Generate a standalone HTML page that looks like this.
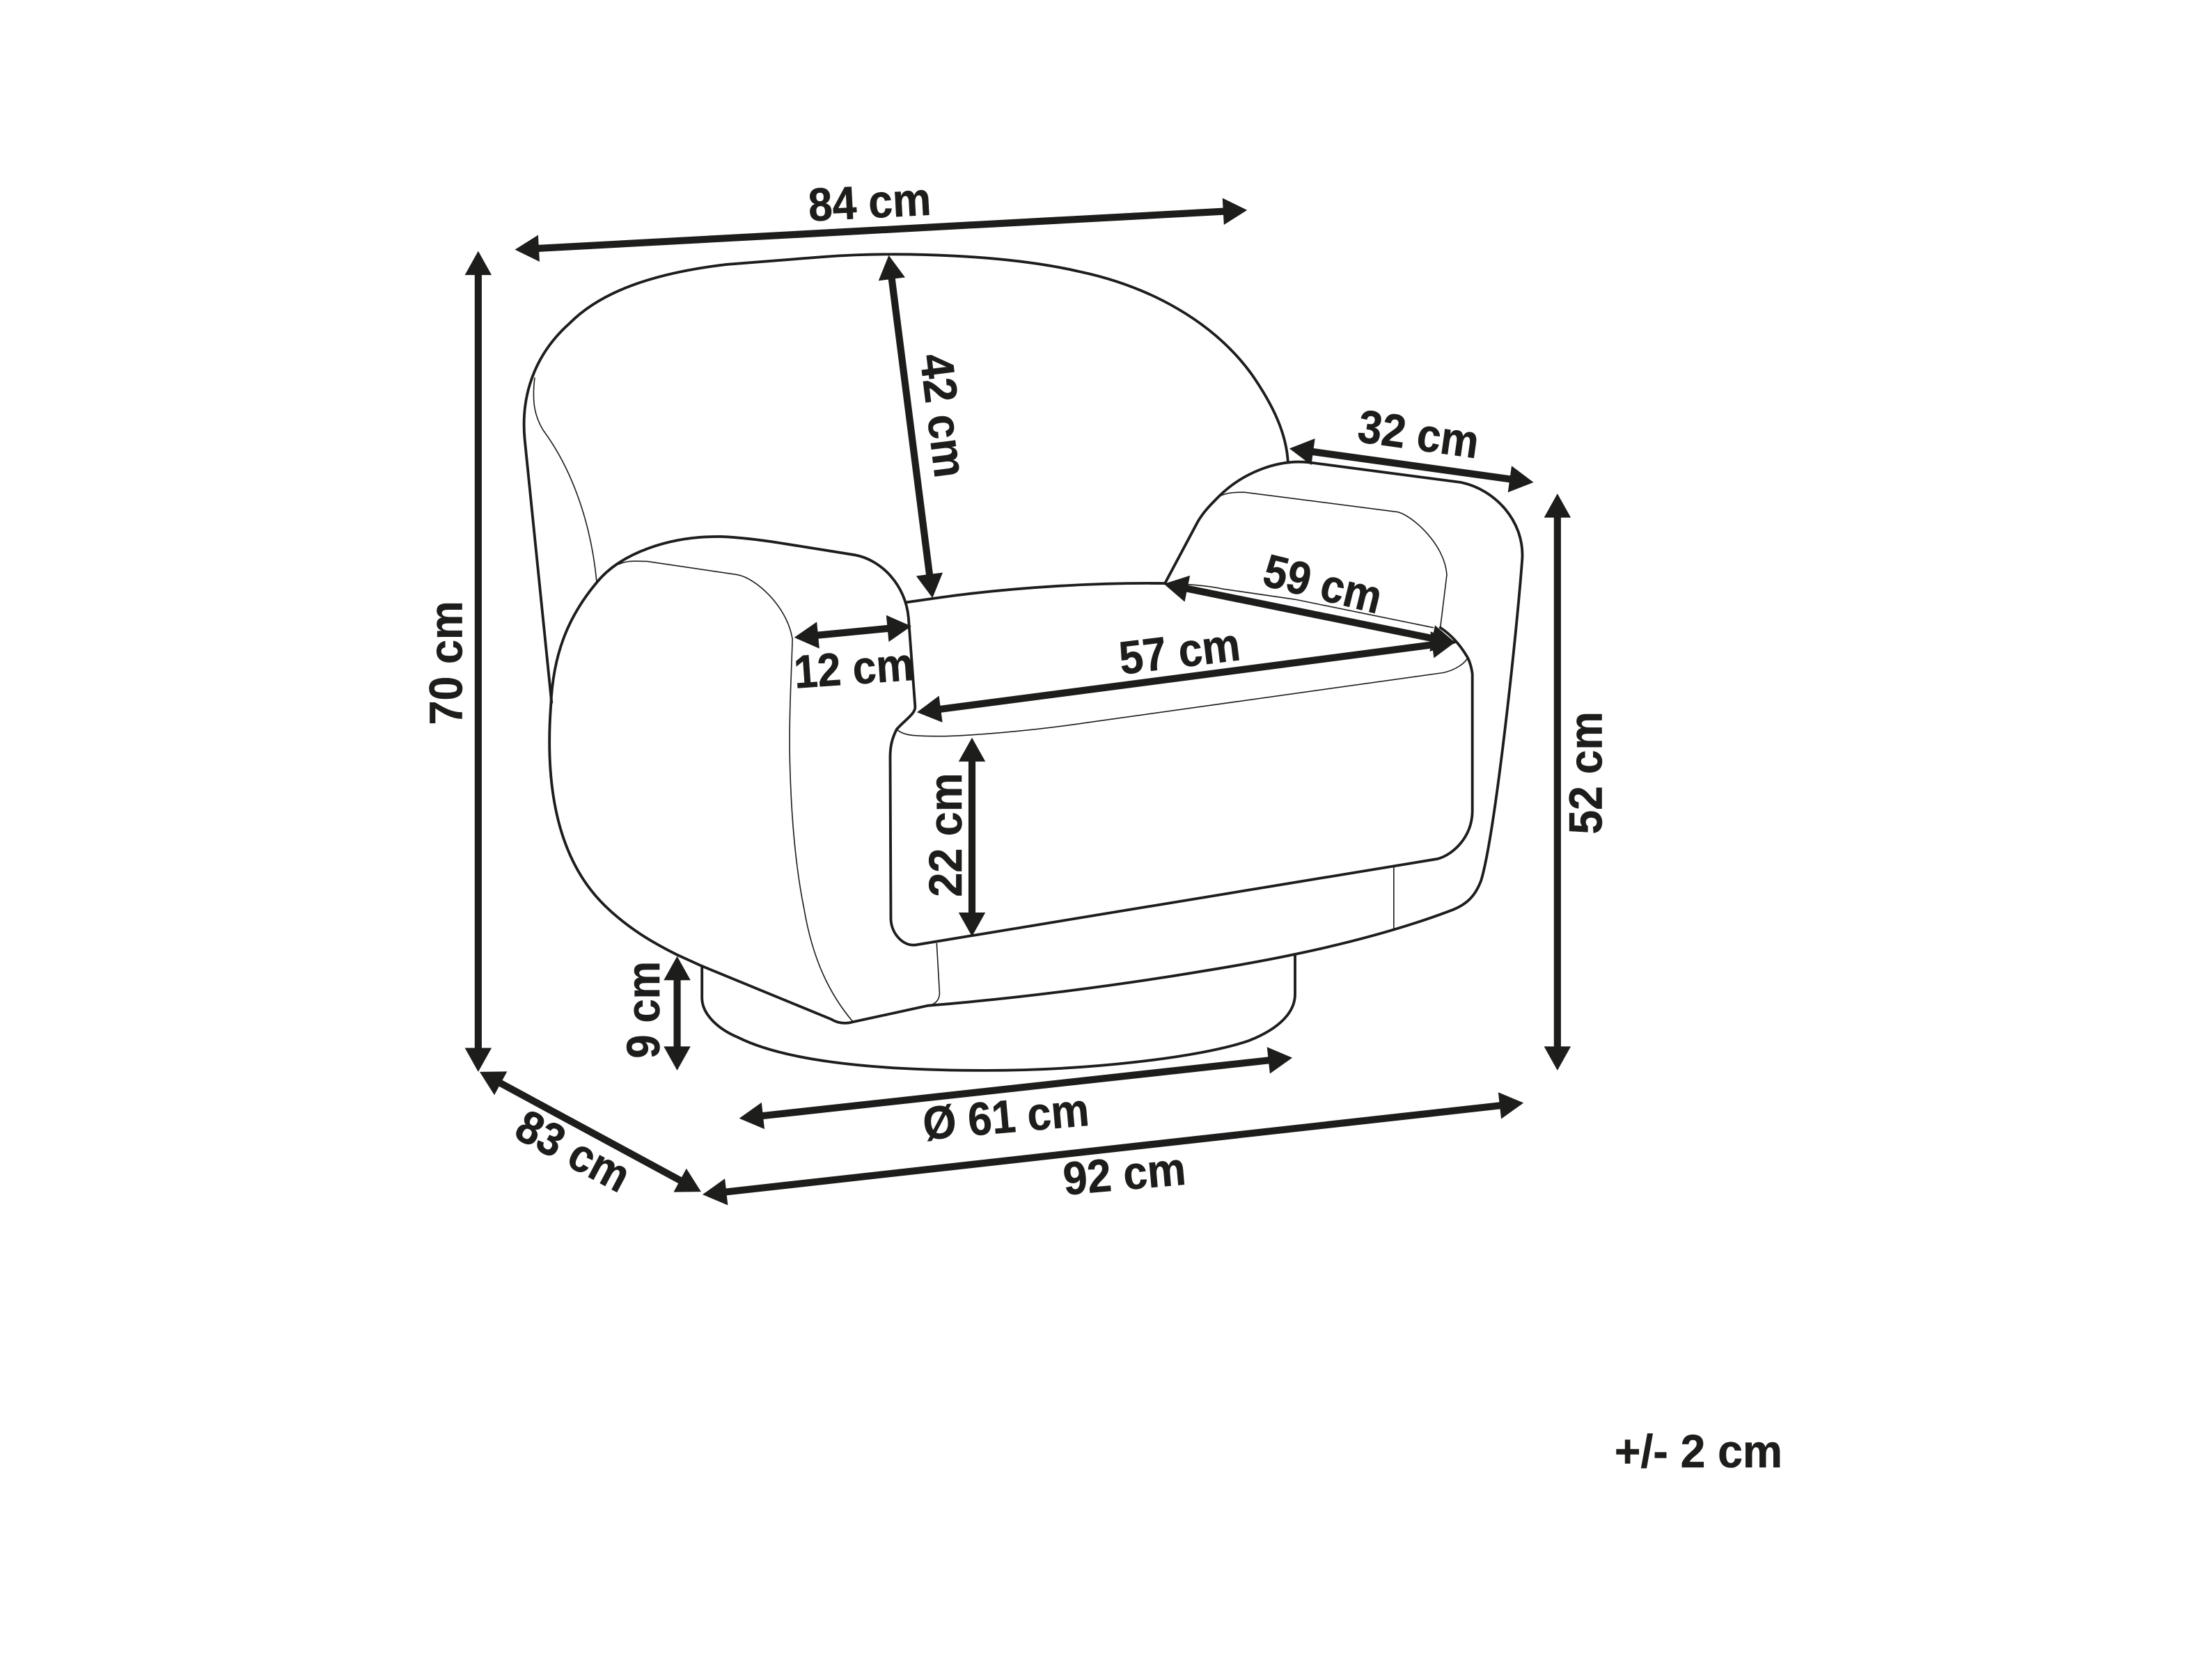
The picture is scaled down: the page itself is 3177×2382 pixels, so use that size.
<!DOCTYPE html>
<html><head><meta charset="utf-8"><style>
html,body{margin:0;padding:0;background:#fff}
svg{display:block}
text{font-family:"Liberation Sans",sans-serif;font-weight:700;font-size:33px;fill:#1d1d1b;text-anchor:middle;stroke:#1d1d1b;stroke-width:.3}
.k{fill:none;stroke:#1d1d1b;stroke-width:1.9;stroke-linecap:round;stroke-linejoin:round}
.t{fill:none;stroke:#1d1d1b;stroke-width:.8;stroke-linecap:round}
.a{fill:#1d1d1b}
</style></head><body>
<svg width="3177" height="2382" viewBox="0 0 1568 1175.6" xmlns="http://www.w3.org/2000/svg">
<rect width="1568" height="1175.6" fill="#fff"/>
<!-- back -->
<path class="k" d="M391,498 L372,312 C369,282 378,252 404,229 C425,208 460,194 515,187.5 L585,182 C640,178 715,181 765,192.5 C815,203 860,228 887,265 C903,288 912,308 913,328"/>
<path class="t" d="M379,268 C377,285 379,295 385,305 C405,332 419,370 423,413"/>
<!-- left arm -->
<path class="k" d="M390.5,500 C392,465 402,438 423,413 C440,392 475,380 511,380.5 C525,381 540,383 553,385 L606,393.5 C625,397 642,415 644,438 L648.7,501 C649,506 642,510 635.7,517"/>
<path class="k" d="M390.5,500 C386,560 396,610 428.6,642 C445,658 462,668 480,677 L497.6,685 L589,722.6 C593,725 598,726.5 604.7,724.6 L658,713 C720,708 790,699 850,689 C900,681 970,668 1030,645 C1040,641 1046,635 1050,624 C1060,590 1075,450 1079,397 C1081,370 1060,347 1035.6,342 L929,328 C905,325 880,336 864,352 C858,358 853,363 849,370 L825.8,413.6"/>
<path class="k" d="M643,427 L664,424 C720,416 780,413 825.8,413.6"/>
<path class="t" d="M439,400 C445,397 452,398 458.5,398 L522.7,407.5 C536,410 558,430 561.7,453 C561,480 559,510 560,544 C561,580 564,615 570,644.6 C576,680 588,705 604.7,724.6"/>
<!-- right arm inner -->
<path class="t" d="M864,352 C870,349 876,349 882,349 L990.7,363 C1000,365 1024,385 1025.6,407.5 L1021,445"/>
<!-- cushion -->
<path class="k" d="M635.7,517 C632,524 631,530 631,537 L631.5,652 C632,662 640,671 649,670 L1019,609 C1030,606 1043,594 1043.7,576 L1043.7,478 C1043,472 1041,467 1039.6,465 C1036,459 1030,451 1021,445"/>
<path class="t" d="M635.7,517 C640,522 650,522 670,522 C700,521 740,517 773,512 L1023,477 C1032,475 1039,470 1040.5,466"/>
<path class="t" d="M825.8,413.6 C840,414 855,415 867,417.6 C890,421 905,423 918,425 L1016,445"/>
<path class="t" d="M664,669 L666,704 C666,708 664,712 658,713"/>
<path class="t" d="M988,614 L988,659"/>
<!-- base -->
<path class="k" d="M497.6,685 L497.6,708 C498,720 510,730 523,735.5 C560,754 630,759 699,759 C770,759 850,750 885,738 C908,729 918,717 918,705 L918,677"/>

<!-- arrows -->
<path class="a" transform="translate(365,177) rotate(-3.09)" d="M0,0 L17,-9.5 L17,-2.5 L502.8,-2.5 L502.8,-9.5 L519.8,0 L502.8,9.5 L502.8,2.5 L17,2.5 L17,9.5Z"/>
<path class="a" transform="translate(339,178) rotate(90)" d="M0,0 L17,-9.5 L17,-2.5 L565,-2.5 L565,-9.5 L582,0 L565,9.5 L565,2.5 L17,2.5 L17,9.5Z"/>
<path class="a" transform="translate(630,181) rotate(82.73)" d="M0,0 L17,-9.5 L17,-2.5 L228,-2.5 L228,-9.5 L245,0 L228,9.5 L228,2.5 L17,2.5 L17,9.5Z"/>
<path class="a" transform="translate(563,452) rotate(-5.5)" d="M0,0 L17,-9.5 L17,-2.5 L66.4,-2.5 L66.4,-9.5 L83.4,0 L66.4,9.5 L66.4,2.5 L17,2.5 L17,9.5Z"/>
<path class="a" transform="translate(650,505) rotate(-7.46)" d="M0,0 L17,-9.5 L17,-2.5 L368.3,-2.5 L368.3,-9.5 L385.3,0 L368.3,9.5 L368.3,2.5 L17,2.5 L17,9.5Z"/>
<path class="a" transform="translate(825,414) rotate(11.47)" d="M0,0 L17,-9.5 L17,-2.5 L194.2,-2.5 L194.2,-9.5 L211.2,0 L194.2,9.5 L194.2,2.5 L17,2.5 L17,9.5Z"/>
<path class="a" transform="translate(914,318) rotate(7.9)" d="M0,0 L17,-9.5 L17,-2.5 L157.7,-2.5 L157.7,-9.5 L174.7,0 L157.7,9.5 L157.7,2.5 L17,2.5 L17,9.5Z"/>
<path class="a" transform="translate(1104,350) rotate(90)" d="M0,0 L17,-9.5 L17,-2.5 L392,-2.5 L392,-9.5 L409,0 L392,9.5 L392,2.5 L17,2.5 L17,9.5Z"/>
<path class="a" transform="translate(689,523) rotate(90)" d="M0,0 L17,-9.5 L17,-2.5 L124,-2.5 L124,-9.5 L141,0 L124,9.5 L124,2.5 L17,2.5 L17,9.5Z"/>
<path class="a" transform="translate(480,678) rotate(90)" d="M0,0 L17,-9.5 L17,-2.5 L64,-2.5 L64,-9.5 L81,0 L64,9.5 L64,2.5 L17,2.5 L17,9.5Z"/>
<path class="a" transform="translate(340,760) rotate(28.43)" d="M0,0 L17,-9.5 L17,-2.5 L161.5,-2.5 L161.5,-9.5 L178.5,0 L161.5,9.5 L161.5,2.5 L17,2.5 L17,9.5Z"/>
<path class="a" transform="translate(524,793) rotate(-6.26)" d="M0,0 L17,-9.5 L17,-2.5 L377.4,-2.5 L377.4,-9.5 L394.4,0 L377.4,9.5 L377.4,2.5 L17,2.5 L17,9.5Z"/>
<path class="a" transform="translate(498,847) rotate(-6.37)" d="M0,0 L17,-9.5 L17,-2.5 L568.6,-2.5 L568.6,-9.5 L585.6,0 L568.6,9.5 L568.6,2.5 L17,2.5 L17,9.5Z"/>

<!-- labels -->
<text transform="translate(617,154.5) rotate(-3)" textLength="87" lengthAdjust="spacingAndGlyphs">84 cm</text>
<text transform="translate(327.5,470) rotate(-90)" textLength="88" lengthAdjust="spacingAndGlyphs">70 cm</text>
<text transform="translate(657.5,296) rotate(83)" textLength="88" lengthAdjust="spacingAndGlyphs">42 cm</text>
<text transform="translate(606,485) rotate(-4)" textLength="85" lengthAdjust="spacingAndGlyphs">12 cm</text>
<text transform="translate(837.5,473) rotate(-7)" textLength="86" lengthAdjust="spacingAndGlyphs">57 cm</text>
<text transform="translate(935,425) rotate(14)" textLength="85" lengthAdjust="spacingAndGlyphs">59 cm</text>
<text transform="translate(1004,319) rotate(8)" textLength="86" lengthAdjust="spacingAndGlyphs">32 cm</text>
<text transform="translate(1135.5,548) rotate(-90)" textLength="87" lengthAdjust="spacingAndGlyphs">52 cm</text>
<text transform="translate(681.5,592) rotate(-90)" textLength="88" lengthAdjust="spacingAndGlyphs">22 cm</text>
<text transform="translate(467.5,716) rotate(-90)" textLength="69" lengthAdjust="spacingAndGlyphs">9 cm</text>
<text transform="translate(401,826) rotate(28)" textLength="86" lengthAdjust="spacingAndGlyphs">83 cm</text>
<text transform="translate(714,803) rotate(-5)" textLength="118" lengthAdjust="spacingAndGlyphs">Ø 61 cm</text>
<text transform="translate(798,843.5) rotate(-5)" textLength="87" lengthAdjust="spacingAndGlyphs">92 cm</text>
<text transform="translate(1204,1040.5)" textLength="119" lengthAdjust="spacingAndGlyphs">+/- 2 cm</text>
</svg>
</body></html>
